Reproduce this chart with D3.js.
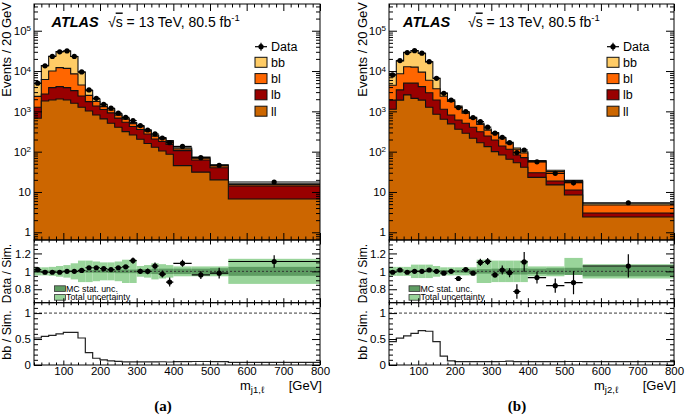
<!DOCTYPE html>
<html><head><meta charset="utf-8">
<script src="https://cdn.jsdelivr.net/npm/d3@7"></script>
<style>
body{margin:0;background:#fff;}
svg{font-family:"Liberation Sans",Arial,Helvetica,sans-serif;}
</style></head><body>
<svg id="c" width="685" height="416"></svg>
<script>
// ---------------- data ----------------
const binEdges = [20,40,60,80,100,120,140,160,180,200,220,240,260,280,300,320,340,360,380,400,450,500,550,800];

// panel (a): m_{j1,l}
const dataA  = [5000,13500,23000,30000,31500,23000,9500,3400,2100,1500,1200,900,710,590,445,345,275,218,167,135,71,46,17.7];
const ratioA = [1.02,0.99,0.99,0.99,1.00,1.00,1.01,1.04,1.04,1.03,1.02,1.04,1.05,1.12,1.00,1.00,1.06,0.97,0.88,1.09,0.96,0.98,1.11];
const errA   = [0.005,0.004,0.004,0.004,0.004,0.004,0.006,0.01,0.012,0.015,0.017,0.02,0.022,0.035,0.028,0.032,0.04,0.04,0.05,0.04,0.045,0.06,0.07];
const llA = [674,1810,1918,2030,1918,1590,1260,1020,815,650,505,405,315,260,203,160,129,104,86,45,31,20,6.7];
const lbA = [586,890,1952,2070,1952,1670,1150,720,545,460,412,276,223,160,151,115,77,75,66,61,31,20,7.4];
const blA = [1090,3440,6120,8020,7785,5250,2100,745,397,200,165,123,97,75,64,49,37,32,27,10,7,4,1.1];
const bbA = [2550,7500,13240,18180,19845,14490,4890,785,263,146,94,61,41,32,27,21,16,14,11,8,5,3,0.8];
const statA  = [0.012,0.01,0.01,0.01,0.01,0.01,0.012,0.015,0.015,0.015,0.018,0.02,0.02,0.02,0.025,0.025,0.03,0.03,0.03,0.03,0.03,0.035,0.05];
const totUpA = [0.045,0.045,0.05,0.06,0.07,0.09,0.12,0.12,0.11,0.10,0.10,0.11,0.13,0.13,0.06,0.07,0.09,0.08,0.07,0.055,0.055,0.055,0.14];
const totDnA = [0.045,0.045,0.05,0.06,0.07,0.09,0.12,0.12,0.11,0.10,0.10,0.11,0.13,0.13,0.06,0.07,0.09,0.08,0.07,0.055,0.055,0.055,0.14];

// panel (b): m_{j2,l}
const dataB  = [8000,18200,28700,32000,27700,17100,6600,2800,1900,1240,985,700,555,405,287,227,167,95,110,56,29,17,5.4];
const ratioB = [0.99,1.015,0.99,1.0,1.0,1.015,1.0,0.98,1.0,0.92,1.02,0.98,1.10,1.11,0.96,1.015,0.985,0.775,1.105,0.93,0.84,0.875,1.06];
const errB   = [0.005,0.004,0.004,0.004,0.004,0.004,0.006,0.01,0.012,0.015,0.017,0.02,0.04,0.04,0.03,0.05,0.05,0.08,0.11,0.065,0.08,0.13,0.13];
const llB = [1130,1900,2560,2100,1900,1260,850,635,490,360,286,215,167,133,100,83,65,53,41,23,15,8.4,2.4];
const lbB = [770,1500,2440,2900,2200,1640,1070,495,324,252,221,188,146,112,95,55,50,30,30,7,3.7,2.8,0.6];
const blB = [2540,5200,7760,7500,5300,3000,1710,1240,934,650,396,265,159,96,85,71,42,32,22,26,13.6,6.9,1.77];
const bbB = [3640,9300,16240,19500,18300,10950,2970,486,152,88,63,46,33,24,20,15,13,8,6.5,4,2.2,1.3,0.33];
const statB  = [0.012,0.01,0.01,0.01,0.01,0.01,0.012,0.015,0.015,0.015,0.018,0.02,0.025,0.025,0.03,0.03,0.035,0.035,0.035,0.03,0.035,0.04,0.055];
const totUpB = [0.05,0.05,0.05,0.075,0.075,0.075,0.06,0.045,0.045,0.045,0.045,0.045,0.13,0.13,0.12,0.12,0.12,0.12,0.12,0.055,0.055,0.15,0.08];
const totDnB = [0.05,0.05,0.05,0.075,0.075,0.075,0.06,0.045,0.045,0.045,0.045,0.045,0.13,0.13,0.12,0.12,0.12,0.12,0.12,0.055,0.055,0.035,0.08];

// ticks & labels
const xMajor = [100,200,300,400,500,600,700,800];
const mainMajor = [1,10,100,1000,10000,100000];
const ratioMajor = [0.8,1,1.2];
const fracMajor = [0,0.5,1];
const legendNames = ["Data","bb","bl","lb","ll"];
const compKeys = ["ll","lb","bl","bb"];
const compColors = {ll:"#cc6600", lb:"#990000", bl:"#ff6600", bb:"#ffcc66"};

// ---------------- drawing ----------------
const svg = d3.select("#c");
const Y = {top:4, mainBot:240, ratBot:302.7, bbBot:365};
const FS = {tick:11.5, title:13, leg:12.5};

function styleAxis(gg){
  gg.select(".domain").remove();
  gg.attr("font-family",null).attr("font-size",null);
  gg.selectAll("line").attr("stroke","#000").attr("stroke-width",1);
  gg.selectAll("text").attr("fill","#000").style("font-size",FS.tick+"px");
  return gg;
}
function addAxis(g, gen, scale, tx, ty, vals, len, fmt){
  const a = gen(scale).tickValues(vals).tickSizeInner(-len).tickSizeOuter(0).tickPadding(3)
     .tickFormat(fmt || (()=>""));
  return styleAxis(g.append("g").attr("transform",`translate(${tx},${ty})`).call(a));
}

function drawPanel(p){
  const g = svg.append("g");
  const n = p.data.length;
  const lo = binEdges.slice(0,n), hi = binEdges.slice(1,n+1);
  const x = d3.scaleLinear().domain([20,800]).range([p.x0,p.x1]);
  const yM = d3.scaleLog().domain([0.644,4.6e5]).range([Y.mainBot,Y.top]);
  const yR = d3.scaleLinear().domain([0.65,1.35]).range([Y.ratBot,Y.mainBot]);
  const yF = d3.scaleLinear().domain([0,1.2]).range([Y.bbBot,Y.ratBot]);

  const mk = (id,y0,y1)=>{ g.append("clipPath").attr("id",id).append("rect")
      .attr("x",p.x0).attr("y",y0).attr("width",p.x1-p.x0).attr("height",y1-y0); return `url(#${id})`; };
  const cM = mk("cm"+p.id, Y.top, Y.mainBot), cR = mk("cr"+p.id, Y.mainBot, Y.ratBot), cF = mk("cf"+p.id, Y.ratBot, Y.bbBot);

  // ---- main stacked histogram ----
  const rows = d3.range(n).map(i=>({ll:p.ll[i], lb:p.lb[i], bl:p.bl[i], bb:p.bb[i]}));
  const stack = d3.stack().keys(compKeys)(rows);
  const steps = vals => { const pts = d3.range(n).map(i=>[x(lo[i]), vals[i]]); pts.push([x(hi[n-1]), vals[n-1]]); return pts; };
  const area = d3.area().curve(d3.curveStepAfter).x(d=>d[0]).y0(Y.mainBot).y1(d=>yM(d[1]));
  const sline = d3.line().curve(d3.curveStepAfter).x(d=>d[0]).y(d=>yM(d[1]));
  const gm = g.append("g").attr("clip-path",cM);
  for(let k=stack.length-1;k>=0;k--){
    const tops = stack[k].map(d=>d[1]);
    gm.append("path").attr("d",area(steps(tops))).attr("fill",compColors[stack[k].key]);
    gm.append("path").attr("d",sline(steps(tops))).attr("fill","none").attr("stroke","#111").attr("stroke-width",1.1);
  }
  const gd = gm.append("g");
  d3.range(n).forEach(i=>{
    const xc = x((lo[i]+hi[i])/2), v = p.data[i], e = p.err[i]/p.ratio[i]*v;
    gd.append("line").attr("x1",x(lo[i])).attr("x2",x(hi[i])).attr("y1",yM(v)).attr("y2",yM(v)).attr("stroke","#000").attr("stroke-width",1.2);
    gd.append("line").attr("x1",xc).attr("x2",xc).attr("y1",yM(v+e)).attr("y2",yM(Math.max(v-e,0.7))).attr("stroke","#000").attr("stroke-width",1.2);
    gd.append("circle").attr("cx",xc).attr("cy",yM(v)).attr("r",2.6).attr("fill","#000");
  });

  // ---- ratio panel ----
  const gr = g.append("g").attr("clip-path",cR);
  d3.range(n).forEach(i=>{
    gr.append("rect").attr("x",x(lo[i])).attr("width",x(hi[i])-x(lo[i]))
      .attr("y",yR(1+p.totUp[i])).attr("height",yR(1-p.totDn[i])-yR(1+p.totUp[i])).attr("fill","#99d49a");
  });
  d3.range(n).forEach(i=>{
    gr.append("rect").attr("x",x(lo[i])).attr("width",x(hi[i])-x(lo[i]))
      .attr("y",yR(1+p.stat[i])).attr("height",yR(1-p.stat[i])-yR(1+p.stat[i])).attr("fill","#5e9c62");
  });
  gr.append("line").attr("x1",p.x0).attr("x2",p.x1).attr("y1",yR(1)).attr("y2",yR(1))
    .attr("stroke","#333").attr("stroke-dasharray","2,2").attr("stroke-width",1);
  d3.range(n).forEach(i=>{
    const xc = x((lo[i]+hi[i])/2), r = p.ratio[i], e = p.err[i];
    gr.append("line").attr("x1",x(lo[i])).attr("x2",x(hi[i])).attr("y1",yR(r)).attr("y2",yR(r)).attr("stroke","#000").attr("stroke-width",1.2);
    gr.append("line").attr("x1",xc).attr("x2",xc).attr("y1",yR(r+e)).attr("y2",yR(r-e)).attr("stroke","#000").attr("stroke-width",1.2);
    gr.append("circle").attr("cx",xc).attr("cy",yR(r)).attr("r",2.6).attr("fill","#000");
  });
  const lgR = g.append("g");
  [["MC stat. unc.","#5e9c62",288.6],["Total uncertainty","#99d49a",297.4]].forEach(([t,c,yy])=>{
    lgR.append("rect").attr("x",p.rlx).attr("y",yy-2.8).attr("width",11).attr("height",5.6).attr("fill",c).attr("stroke","#333").attr("stroke-width",0.8);
    lgR.append("text").attr("x",p.rlx+11.5).attr("y",yy).attr("dy","0.34em").style("font-size","8.8px").text(t);
  });

  // ---- bb / Sim panel ----
  const gf = g.append("g").attr("clip-path",cF);
  gf.append("line").attr("x1",p.x0).attr("x2",p.x1).attr("y1",yF(1)).attr("y2",yF(1))
    .attr("stroke","#222").attr("stroke-dasharray","3,2").attr("stroke-width",0.9);
  const frac = d3.range(n).map(i=>p.bb[i]/(p.ll[i]+p.lb[i]+p.bl[i]+p.bb[i]));
  const fline = d3.line().curve(d3.curveStepAfter).x(d=>d[0]).y(d=>yF(d[1]));
  gf.append("path").attr("d",fline(steps(frac))).attr("fill","none").attr("stroke","#222").attr("stroke-width",1.2);

  // ---- axes ----
  const xMinor = d3.range(20,801,20).filter(v=>v%100!==0);
  const mainMinor = [];
  [0.1,1,10,100,1000,10000,100000].forEach(d=>{ for(let k=2;k<=9;k++){ const v=k*d; if(v>0.644 && v<4.6e5) mainMinor.push(v);} });
  const lm = addAxis(g, d3.axisLeft, yM, p.x0, 0, mainMajor, 8, d=>d);
  lm.selectAll(".tick text").each(function(d){
    const t = d3.select(this); t.text("");
    if(d<100){ t.text(String(d)); }
    else { t.append("tspan").text("10"); t.append("tspan").attr("dy","-0.45em").style("font-size","8px").text(String(Math.round(Math.log10(d)))); }
  });
  addAxis(g, d3.axisLeft, yM, p.x0, 0, mainMinor, 4);
  addAxis(g, d3.axisRight, yM, p.x1, 0, mainMajor, 8);
  addAxis(g, d3.axisRight, yM, p.x1, 0, mainMinor, 4);
  const rMinor = d3.range(0.7,1.31,0.05).map(v=>+v.toFixed(2)).filter(v=>!ratioMajor.includes(v));
  addAxis(g, d3.axisLeft, yR, p.x0, 0, ratioMajor, 8, d=>String(d));
  addAxis(g, d3.axisLeft, yR, p.x0, 0, rMinor, 4);
  addAxis(g, d3.axisRight, yR, p.x1, 0, ratioMajor, 8);
  addAxis(g, d3.axisRight, yR, p.x1, 0, rMinor, 4);
  const fMinor = d3.range(0.1,1.15,0.1).map(v=>+v.toFixed(1)).filter(v=>!fracMajor.includes(v));
  addAxis(g, d3.axisLeft, yF, p.x0, 0, fracMajor, 8, d=>String(d));
  addAxis(g, d3.axisLeft, yF, p.x0, 0, fMinor, 4);
  addAxis(g, d3.axisRight, yF, p.x1, 0, fracMajor, 8);
  addAxis(g, d3.axisRight, yF, p.x1, 0, fMinor, 4);
  addAxis(g, d3.axisTop, x, 0, Y.top, xMajor, 7);
  addAxis(g, d3.axisTop, x, 0, Y.top, xMinor, 3.5);
  addAxis(g, d3.axisBottom, x, 0, Y.mainBot, xMajor, 7);
  addAxis(g, d3.axisBottom, x, 0, Y.mainBot, xMinor, 3.5);
  addAxis(g, d3.axisTop, x, 0, Y.mainBot, xMajor, 4.5);
  addAxis(g, d3.axisTop, x, 0, Y.mainBot, xMinor, 2.5);
  addAxis(g, d3.axisBottom, x, 0, Y.ratBot, xMajor, 4.5);
  addAxis(g, d3.axisBottom, x, 0, Y.ratBot, xMinor, 2.5);
  addAxis(g, d3.axisTop, x, 0, Y.ratBot, xMajor, 4.5);
  addAxis(g, d3.axisTop, x, 0, Y.ratBot, xMinor, 2.5);
  const xb = addAxis(g, d3.axisBottom, x, 0, Y.bbBot, xMajor, 4.5, d=>String(d));
  xb.selectAll(".tick text").attr("y",2);
  addAxis(g, d3.axisBottom, x, 0, Y.bbBot, xMinor, 2.5);

  [[Y.top,Y.mainBot],[Y.mainBot,Y.ratBot],[Y.ratBot,Y.bbBot]].forEach(([a,b])=>{
    g.append("rect").attr("x",p.x0).attr("y",a).attr("width",p.x1-p.x0).attr("height",b-a)
      .attr("fill","none").attr("stroke","#000").attr("stroke-width",1);
  });

  // titles
  g.append("text").attr("transform",`translate(${p.tx},2) rotate(-90)`)
      .attr("text-anchor","end").style("font-size",FS.title+"px").text("Events / 20 GeV");
  g.append("text").attr("transform",`translate(${p.tx},273.5) rotate(-90)`)
      .attr("text-anchor","middle").style("font-size","12px").text("Data / Sim.");
  g.append("text").attr("transform",`translate(${p.tx},335) rotate(-90)`)
      .attr("text-anchor","middle").style("font-size","12.5px").text("bb / Sim.");
  const xt = g.append("text").attr("x",p.x1-80).attr("y",389.5).style("font-size",FS.title+"px");
  xt.append("tspan").text("m");
  xt.append("tspan").attr("dy",3).style("font-size","9.5px").text(p.sub);
  g.append("text").attr("x",p.x1+2).attr("y",389.5).attr("text-anchor","end").style("font-size",FS.title+"px").text("[GeV]");
  g.append("text").attr("x",p.tagx).attr("y",410.5).attr("text-anchor","middle")
    .style("font-family","'Liberation Serif','DejaVu Serif',serif").style("font-weight","bold").style("font-size","15px").text(p.tag);

  g.append("text").attr("x",p.atlasX).attr("y",26.5).style("font-weight","bold").style("font-style","italic").style("font-size","14.5px").text("ATLAS");
  const lum = g.append("text").attr("x",p.lumX).attr("y",26.5).style("font-size","14px");
  lum.append("tspan").text("\u221A");
  lum.append("tspan").style("text-decoration","overline").text("s");
  lum.append("tspan").text(" = 13 TeV, 80.5 fb");
  lum.append("tspan").attr("dy",-5.5).style("font-size","9.5px").text("-1");

  const lg = g.append("g");
  const rowY = [46.7,62.3,78.6,94.8,111.2];
  lg.append("line").attr("x1",p.lx).attr("x2",p.lx+12).attr("y1",rowY[0]).attr("y2",rowY[0]).attr("stroke","#000").attr("stroke-width",1.2);
  lg.append("line").attr("x1",p.lx+6).attr("x2",p.lx+6).attr("y1",rowY[0]-4).attr("y2",rowY[0]+4).attr("stroke","#000").attr("stroke-width",1.2);
  lg.append("circle").attr("cx",p.lx+6).attr("cy",rowY[0]).attr("r",2.6).attr("fill","#000");
  legendNames.forEach((nm,j)=>{
    if(j>0){
      lg.append("rect").attr("x",p.lx).attr("y",rowY[j]-5).attr("width",12).attr("height",10)
        .attr("fill",compColors[nm]).attr("stroke","#111").attr("stroke-width",1);
    }
    lg.append("text").attr("x",p.lx+16).attr("y",rowY[j]).attr("dy","0.36em").style("font-size",FS.leg+"px").text(nm);
  });
}

drawPanel({id:"a", x0:34, x1:320, data:dataA, ratio:ratioA, err:errA, ll:llA, lb:lbA, bl:blA, bb:bbA,
  stat:statA, totUp:totUpA, totDn:totDnA, sub:"j1,\u2113", tag:"(a)", tagx:163, tx:11, atlasX:51.5, lumX:108, lx:255, rlx:54.5});
drawPanel({id:"b", x0:389, x1:674, data:dataB, ratio:ratioB, err:errB, ll:llB, lb:lbB, bl:blB, bb:bbB,
  stat:statB, totUp:totUpB, totDn:totDnB, sub:"j2,\u2113", tag:"(b)", tagx:517, tx:366.5, atlasX:403, lumX:468, lx:607, rlx:409});
</script>
</body></html>
